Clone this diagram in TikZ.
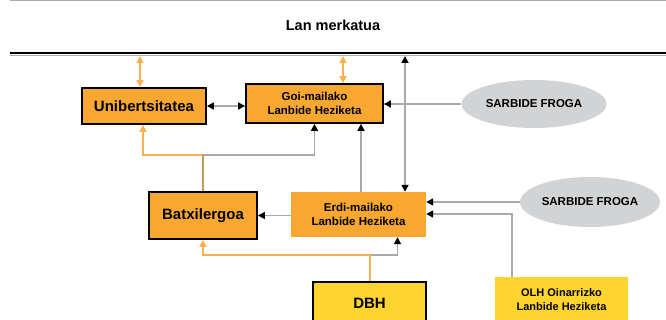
\documentclass[tikz,border=0pt]{standalone}
\usepackage{fontspec}
\setmainfont{Liberation Sans}
\usetikzlibrary{shapes.geometric,arrows.meta}
\definecolor{boxorange}{HTML}{F8A830}
\definecolor{boxyellow}{HTML}{FFD42E}
\definecolor{ovalgray}{HTML}{D1D3D4}
\definecolor{linegray}{HTML}{A7A9AC}
\definecolor{lineorange}{HTML}{FBB24E}
\definecolor{linemix}{HTML}{C89A5E}

\begin{document}
\begin{tikzpicture}[x=1pt,y=-1pt,
  bigtext/.style={font=\fontsize{15}{17}\selectfont\bfseries},
  smalltext/.style={font=\fontsize{11.5}{13.5}\selectfont\bfseries},
  orangebox/.style={fill=boxorange,inner sep=0pt,align=center},
  framedbox/.style={orangebox,draw=black,line width=1.8pt},
  yellowbox/.style={fill=boxyellow,inner sep=0pt,align=center},
  oval/.style={ellipse,fill=ovalgray,inner sep=0pt,smalltext},
  grayline/.style={draw=linegray,line width=1.6pt},
  orangeline/.style={draw=lineorange,line width=1.6pt},
  blackhead/.style={-{Triangle[black,length=7pt,width=7pt]}},
  blackboth/.style={{Triangle[black,length=7pt,width=7pt]}-{Triangle[black,length=7pt,width=7pt]}},
  orangehead/.style={-{Triangle[lineorange,length=7pt,width=7pt]}},
  orangeboth/.style={{Triangle[lineorange,length=7pt,width=7pt]}-{Triangle[lineorange,length=7pt,width=7pt]}}
]
\useasboundingbox (0,0) rectangle (666,320);
\clip (0,0) rectangle (666,320);

\draw
    node at (333,25)[font=\fontsize{14.5}{17}\selectfont\bfseries,name=market]{Lan merkatua}
    node at (144,106)[framedbox,bigtext,minimum width=124pt,minimum height=36pt,name=uni]{Unibertsitatea}
    node at (314.5,103.5)[framedbox,smalltext,minimum width=137pt,minimum height=39pt,name=goi]{Goi-mailako\\Lanbide Heziketa}
    node at (534,104)[oval,minimum width=145pt,minimum height=48pt,name=sf1]{SARBIDE FROGA}

    node at (203,215.5)[framedbox,bigtext,minimum width=108pt,minimum height=47pt,name=batx]{Batxilergoa}
    node at (358.5,214.5)[orangebox,smalltext,minimum width=135pt,minimum height=45pt,name=erdi]{Erdi-mailako\\Lanbide Heziketa}
    node at (590,202)[oval,minimum width=140pt,minimum height=50pt,name=sf2]{SARBIDE FROGA}

    node at (369.5,303)[yellowbox,draw=black,line width=1.8pt,bigtext,minimum width=113pt,minimum height=42pt,name=dbh]{DBH}
    node at (561.5,300)[yellowbox,font=\fontsize{11}{14}\selectfont\bfseries,minimum width=133pt,minimum height=46pt,name=olh]{OLH Oinarrizko\\Lanbide Heziketa}
;

    \draw[linegray,line width=1pt](10,1) -- (666,1);
    \draw[linegray,line width=1pt](10,55.5) -- (666,55.5);
    \draw[black,line width=2.3pt](10,53) -- (666,53);

    \coordinate (m1) at (140,56);
    \coordinate (m2) at (343,56);
    \coordinate (m3) at (405,56);
    \coordinate (bsplit) at (203,155);
    \coordinate (dsplit) at (370,255);
    \coordinate (olhjoin) at (512,214);

    \draw[orangeline,orangeboth](m1) -- (m1 |- uni.north);
    \draw[orangeline,orangeboth](m2) -- (m2 |- goi.north);
    \draw[grayline,blackboth](m3) -- (m3 |- erdi.north);

    \draw[grayline,blackboth](uni.east) -- (uni.east -| goi.west);
    \draw[grayline,blackhead](sf1.west) -- (sf1.west -| goi.east);
    \draw[grayline,blackhead](sf2.west) -- (sf2.west -| erdi.east);
    \draw[grayline,blackhead](olh.north -| olhjoin) -- (olhjoin) -- (olhjoin -| erdi.east);
    \draw[grayline,blackhead](erdi.west |- batx.east) -- (batx.east);
    \draw[grayline,blackhead]([xshift=2.5pt]erdi.north) -- ([xshift=2.5pt]erdi.north |- goi.south);

    \draw[grayline,blackhead](bsplit) -| (goi.south);
    \draw[orangeline,orangehead](bsplit) -| ([xshift=-1pt]uni.south);
    \draw[draw=linemix,line width=1.6pt](batx.north) -- (bsplit);

    \draw[grayline,blackhead](dsplit) -| ([xshift=39pt]erdi.south);
    \draw[orangeline,orangehead](dbh.north -| dsplit) -- (dsplit) -| (batx.south);
\end{tikzpicture}
\end{document}
